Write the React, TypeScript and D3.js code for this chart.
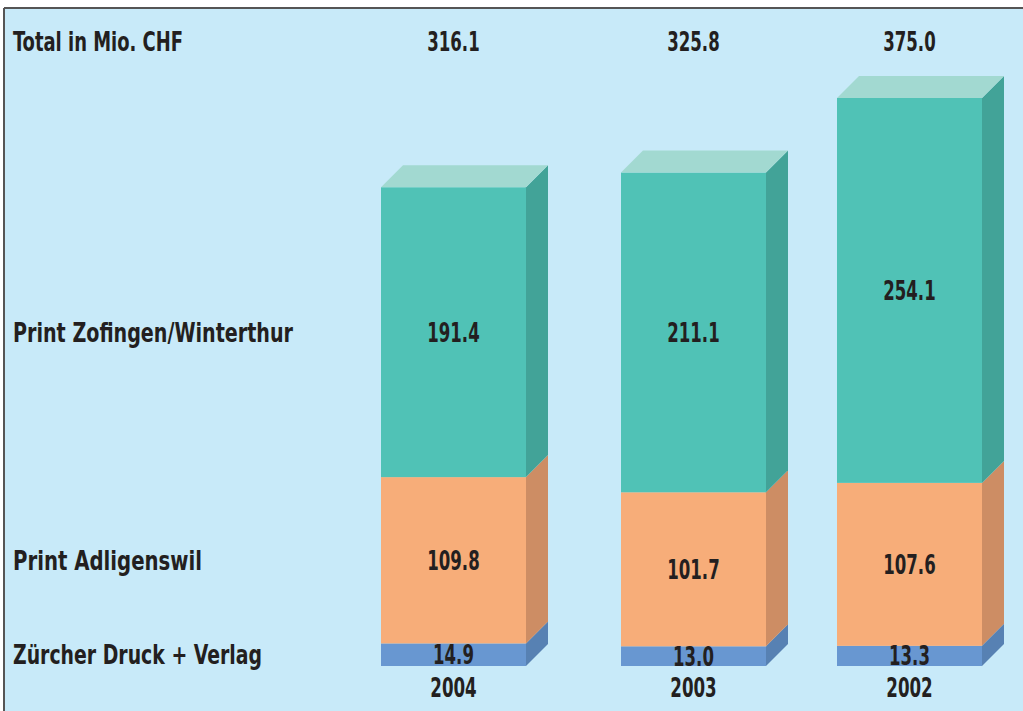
import React from "react";
import * as d3 from "d3";

const years = ["2004", "2003", "2002"];
const seriesNames = ["Zürcher Druck + Verlag", "Print Adligenswil", "Print Zofingen/Winterthur"];
const zuercher = [14.9, 13.0, 13.3];
const adligenswil = [109.8, 101.7, 107.6];
const zofingen = [191.4, 211.1, 254.1];
const totals = [316.1, 325.8, 375.0];
const totalLabel = "Total in Mio. CHF";

const W = 1023;
const H = 711;
const FONT = "'Liberation Sans Narrow', 'DejaVu Sans Condensed', 'Arial Narrow', sans-serif";
const TEXT = "#231f20";
const BG = "#c8eaf9";
const DX = 22;
const DY = 22;
const BAR_W = 145;

const colors = [
  { front: "#6897d1", side: "#5781b3", top: "#8fb3df" },
  { front: "#f7ad79", side: "#cd8d64", top: "#f9c9a4" },
  { front: "#50c2b6", side: "#42a398", top: "#a2d9d1" },
];

const labelWidths = [249, 189, 280];

const numWidth = (s: string) =>
  s.split("").reduce((a, c) => a + (c === "." ? 6 : 11.6), 0);

export default function App() {
  const values = [zuercher, adligenswil, zofingen];
  const x = d3.scaleOrdinal<string, number>().domain(years).range([381, 621, 837]);
  const y = d3.scaleLinear().domain([0, d3.max(totals) as number]).range([666, 98]);

  const stackData = years.map((yr, i) => {
    const row: any = { year: yr };
    seriesNames.forEach((s, k) => (row[s] = values[k][i]));
    return row;
  });
  const stacked = d3.stack<any>().keys(seriesNames)(stackData);

  const fs = 26;
  const capHalf = fs * 0.36;

  const Num = ({ cx, cy, s }: { cx: number; cy: number; s: string }) => (
    <text
      x={cx - numWidth(s) / 2}
      y={cy}
      fontFamily={FONT}
      fontWeight="bold"
      fontSize={fs}
      fill={TEXT}
      textLength={numWidth(s)}
      lengthAdjust="spacingAndGlyphs"
    >
      {s}
    </text>
  );

  return (
    <svg width={W} height={H} style={{ position: "absolute", left: 0, top: 0 }}>
      <rect x={0} y={0} width={W} height={H} fill="#ffffff" />
      <rect x={4} y={8} width={W - 4} height={H - 8} fill={BG} />
      <line x1={4} y1={8} x2={W} y2={8} stroke="#555" strokeWidth={2} />
      <line x1={4} y1={8} x2={4} y2={H} stroke="#555" strokeWidth={2} />

      {stacked.map((layer, k) => (
        <g key={layer.key}>
          {layer.map((d, i) => {
            const x0 = x(years[i]);
            const x1 = x0 + BAR_W;
            const yt = y(d[1]);
            const yb = y(d[0]);
            const isTop = k === stacked.length - 1;
            return (
              <g key={i}>
                <rect x={x0} y={yt} width={BAR_W} height={yb - yt} fill={colors[k].front} />
                <path
                  d={`M${x1},${yt}L${x1 + DX},${yt - DY}L${x1 + DX},${yb - DY}L${x1},${yb}Z`}
                  fill={colors[k].side}
                />
                {isTop && (
                  <path
                    d={`M${x0},${yt}L${x0 + DX},${yt - DY}L${x1 + DX},${yt - DY}L${x1},${yt}Z`}
                    fill={colors[k].top}
                  />
                )}
              </g>
            );
          })}
        </g>
      ))}

      {stacked.map((layer, k) =>
        layer.map((d, i) => (
          <Num
            key={layer.key + i}
            cx={x(years[i]) + BAR_W / 2}
            cy={(y(d[0]) + y(d[1])) / 2 + capHalf}
            s={d3.format(".1f")(values[k][i])}
          />
        ))
      )}

      {stacked.map((layer, k) => {
        const d = layer[0];
        const mid = (y(d[0]) + y(d[1])) / 2;
        return (
          <text
            key={layer.key}
            x={13}
            y={mid + capHalf}
            fontFamily={FONT}
            fontWeight="bold"
            fontSize={fs}
            fill={TEXT}
            textLength={labelWidths[k]}
            lengthAdjust="spacingAndGlyphs"
          >
            {layer.key}
          </text>
        );
      })}

      <text
        x={13}
        y={51}
        fontFamily={FONT}
        fontWeight="bold"
        fontSize={fs}
        fill={TEXT}
        textLength={170}
        lengthAdjust="spacingAndGlyphs"
      >
        {totalLabel}
      </text>

      {years.map((yr, i) => (
        <g key={yr}>
          <Num cx={x(yr) + BAR_W / 2} cy={51} s={d3.format(".1f")(totals[i])} />
          <Num cx={x(yr) + BAR_W / 2} cy={697} s={yr} />
        </g>
      ))}
    </svg>
  );
}
